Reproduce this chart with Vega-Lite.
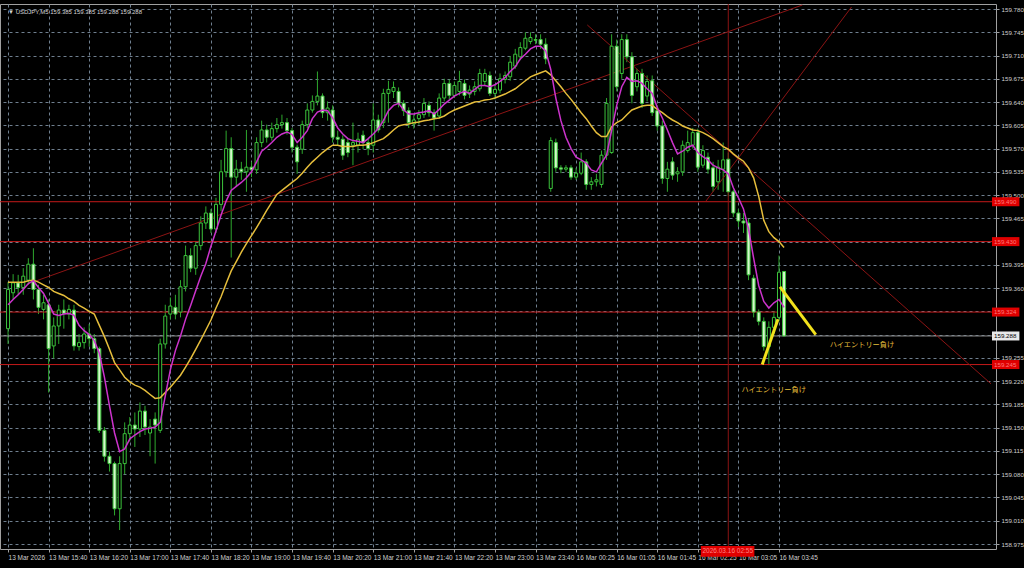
{
"$schema": "https://vega.github.io/schema/vega-lite/v6.json",
"width": 996, "height": 545,
"autosize": "none",
"padding": {"left": 0, "top": 4, "right": 28, "bottom": 19},
"background": "#000000",
"config": {
  "font": "Liberation Sans",
  "view": {"stroke": "#a0a0a0", "strokeWidth": 1},
  "axis": {"gridColor": "#6f7f8f", "gridDash": [3, 3], "gridOpacity": 1, "gridWidth": 1, "domain": false, "tickColor": "#a0a0a0", "tickSize": 3, "labelColor": "#cfcfcf", "labelFont": "Liberation Sans", "labelOverlap": false, "labelFlush": false}
},
"datasets": {
  "candles": [
{"i":0,"o":159.299,"h":159.369,"l":159.276,"c":159.358,"f":159.335,"s":159.369},
{"i":1,"o":159.353,"h":159.381,"l":159.343,"c":159.368,"f":159.343,"s":159.369},
{"i":2,"o":159.368,"h":159.380,"l":159.350,"c":159.361,"f":159.350,"s":159.369},
{"i":3,"o":159.361,"h":159.390,"l":159.350,"c":159.378,"f":159.358,"s":159.369},
{"i":4,"o":159.372,"h":159.405,"l":159.365,"c":159.396,"f":159.367,"s":159.371},
{"i":5,"o":159.396,"h":159.420,"l":159.343,"c":159.358,"f":159.371,"s":159.372},
{"i":6,"o":159.358,"h":159.365,"l":159.321,"c":159.331,"f":159.361,"s":159.369},
{"i":7,"o":159.328,"h":159.350,"l":159.313,"c":159.338,"f":159.352,"s":159.365},
{"i":8,"o":159.335,"h":159.343,"l":159.203,"c":159.269,"f":159.337,"s":159.361},
{"i":9,"o":159.273,"h":159.316,"l":159.254,"c":159.303,"f":159.321,"s":159.355},
{"i":10,"o":159.303,"h":159.335,"l":159.276,"c":159.327,"f":159.319,"s":159.352},
{"i":11,"o":159.327,"h":159.343,"l":159.299,"c":159.322,"f":159.321,"s":159.349},
{"i":12,"o":159.321,"h":159.335,"l":159.313,"c":159.328,"f":159.322,"s":159.344},
{"i":13,"o":159.327,"h":159.335,"l":159.266,"c":159.273,"f":159.319,"s":159.340},
{"i":14,"o":159.272,"h":159.291,"l":159.266,"c":159.278,"f":159.304,"s":159.334},
{"i":15,"o":159.278,"h":159.301,"l":159.269,"c":159.291,"f":159.296,"s":159.330},
{"i":16,"o":159.291,"h":159.306,"l":159.272,"c":159.284,"f":159.290,"s":159.325},
{"i":17,"o":159.284,"h":159.291,"l":159.262,"c":159.269,"f":159.281,"s":159.321},
{"i":18,"o":159.269,"h":159.272,"l":159.142,"c":159.146,"f":159.262,"s":159.304},
{"i":19,"o":159.146,"h":159.151,"l":159.099,"c":159.107,"f":159.226,"s":159.287},
{"i":20,"o":159.107,"h":159.114,"l":159.084,"c":159.096,"f":159.183,"s":159.268},
{"i":21,"o":159.096,"h":159.099,"l":159.018,"c":159.028,"f":159.142,"s":159.248},
{"i":22,"o":159.028,"h":159.107,"l":158.996,"c":159.096,"f":159.114,"s":159.237},
{"i":23,"o":159.096,"h":159.158,"l":159.080,"c":159.141,"f":159.118,"s":159.226},
{"i":24,"o":159.141,"h":159.166,"l":159.129,"c":159.154,"f":159.133,"s":159.219},
{"i":25,"o":159.154,"h":159.173,"l":159.121,"c":159.148,"f":159.139,"s":159.214},
{"i":26,"o":159.148,"h":159.188,"l":159.136,"c":159.175,"f":159.144,"s":159.211},
{"i":27,"o":159.175,"h":159.183,"l":159.139,"c":159.151,"f":159.148,"s":159.206},
{"i":28,"o":159.142,"h":159.163,"l":159.107,"c":159.151,"f":159.149,"s":159.200},
{"i":29,"o":159.163,"h":159.173,"l":159.096,"c":159.154,"f":159.151,"s":159.194},
{"i":30,"o":159.146,"h":159.284,"l":159.142,"c":159.276,"f":159.158,"s":159.195},
{"i":31,"o":159.276,"h":159.335,"l":159.269,"c":159.318,"f":159.198,"s":159.203},
{"i":32,"o":159.321,"h":159.346,"l":159.313,"c":159.333,"f":159.237,"s":159.211},
{"i":33,"o":159.331,"h":159.350,"l":159.313,"c":159.321,"f":159.266,"s":159.220},
{"i":34,"o":159.324,"h":159.372,"l":159.316,"c":159.362,"f":159.288,"s":159.229},
{"i":35,"o":159.362,"h":159.424,"l":159.355,"c":159.409,"f":159.313,"s":159.241},
{"i":36,"o":159.409,"h":159.420,"l":159.384,"c":159.390,"f":159.334,"s":159.254},
{"i":37,"o":159.390,"h":159.431,"l":159.380,"c":159.424,"f":159.356,"s":159.268},
{"i":38,"o":159.424,"h":159.468,"l":159.417,"c":159.458,"f":159.378,"s":159.282},
{"i":39,"o":159.458,"h":159.483,"l":159.449,"c":159.473,"f":159.397,"s":159.297},
{"i":40,"o":159.473,"h":159.479,"l":159.443,"c":159.449,"f":159.423,"s":159.312},
{"i":41,"o":159.449,"h":159.496,"l":159.443,"c":159.486,"f":159.446,"s":159.330},
{"i":42,"o":159.486,"h":159.553,"l":159.476,"c":159.535,"f":159.470,"s":159.347},
{"i":43,"o":159.535,"h":159.597,"l":159.527,"c":159.570,"f":159.491,"s":159.367},
{"i":44,"o":159.570,"h":159.587,"l":159.406,"c":159.527,"f":159.507,"s":159.386},
{"i":45,"o":159.527,"h":159.553,"l":159.513,"c":159.539,"f":159.513,"s":159.400},
{"i":46,"o":159.539,"h":159.550,"l":159.523,"c":159.535,"f":159.519,"s":159.414},
{"i":47,"o":159.535,"h":159.598,"l":159.505,"c":159.542,"f":159.526,"s":159.427},
{"i":48,"o":159.542,"h":159.550,"l":159.527,"c":159.538,"f":159.535,"s":159.439},
{"i":49,"o":159.538,"h":159.587,"l":159.532,"c":159.579,"f":159.550,"s":159.451},
{"i":50,"o":159.579,"h":159.612,"l":159.572,"c":159.598,"f":159.566,"s":159.464},
{"i":51,"o":159.598,"h":159.606,"l":159.579,"c":159.587,"f":159.572,"s":159.477},
{"i":52,"o":159.587,"h":159.609,"l":159.582,"c":159.600,"f":159.579,"s":159.489},
{"i":53,"o":159.600,"h":159.616,"l":159.594,"c":159.606,"f":159.587,"s":159.501},
{"i":54,"o":159.606,"h":159.621,"l":159.600,"c":159.609,"f":159.592,"s":159.507},
{"i":55,"o":159.609,"h":159.616,"l":159.591,"c":159.597,"f":159.595,"s":159.513},
{"i":56,"o":159.597,"h":159.601,"l":159.564,"c":159.572,"f":159.591,"s":159.519},
{"i":57,"o":159.572,"h":159.576,"l":159.532,"c":159.550,"f":159.579,"s":159.525},
{"i":58,"o":159.569,"h":159.612,"l":159.562,"c":159.606,"f":159.587,"s":159.533},
{"i":59,"o":159.606,"h":159.638,"l":159.601,"c":159.628,"f":159.597,"s":159.542},
{"i":60,"o":159.628,"h":159.650,"l":159.624,"c":159.641,"f":159.615,"s":159.550},
{"i":61,"o":159.641,"h":159.686,"l":159.635,"c":159.649,"f":159.625,"s":159.557},
{"i":62,"o":159.649,"h":159.653,"l":159.616,"c":159.624,"f":159.628,"s":159.564},
{"i":63,"o":159.624,"h":159.641,"l":159.612,"c":159.631,"f":159.627,"s":159.570},
{"i":64,"o":159.628,"h":159.635,"l":159.579,"c":159.587,"f":159.616,"s":159.575},
{"i":65,"o":159.587,"h":159.597,"l":159.575,"c":159.584,"f":159.601,"s":159.575},
{"i":66,"o":159.584,"h":159.590,"l":159.553,"c":159.560,"f":159.592,"s":159.573},
{"i":67,"o":159.579,"h":159.585,"l":159.557,"c":159.564,"f":159.585,"s":159.573},
{"i":68,"o":159.575,"h":159.609,"l":159.545,"c":159.579,"f":159.582,"s":159.573},
{"i":69,"o":159.575,"h":159.594,"l":159.564,"c":159.584,"f":159.581,"s":159.575},
{"i":70,"o":159.590,"h":159.597,"l":159.569,"c":159.579,"f":159.579,"s":159.575},
{"i":71,"o":159.579,"h":159.585,"l":159.560,"c":159.570,"f":159.585,"s":159.576},
{"i":72,"o":159.575,"h":159.638,"l":159.564,"c":159.613,"f":159.592,"s":159.579},
{"i":73,"o":159.613,"h":159.621,"l":159.594,"c":159.598,"f":159.600,"s":159.582},
{"i":74,"o":159.609,"h":159.660,"l":159.601,"c":159.653,"f":159.612,"s":159.585},
{"i":75,"o":159.653,"h":159.672,"l":159.609,"c":159.659,"f":159.627,"s":159.591},
{"i":76,"o":159.656,"h":159.671,"l":159.646,"c":159.662,"f":159.635,"s":159.598},
{"i":77,"o":159.656,"h":159.662,"l":159.632,"c":159.638,"f":159.638,"s":159.604},
{"i":78,"o":159.638,"h":159.643,"l":159.619,"c":159.627,"f":159.628,"s":159.606},
{"i":79,"o":159.627,"h":159.632,"l":159.601,"c":159.609,"f":159.622,"s":159.607},
{"i":80,"o":159.607,"h":159.621,"l":159.600,"c":159.613,"f":159.622,"s":159.609},
{"i":81,"o":159.615,"h":159.628,"l":159.606,"c":159.621,"f":159.624,"s":159.610},
{"i":82,"o":159.621,"h":159.646,"l":159.616,"c":159.638,"f":159.625,"s":159.612},
{"i":83,"o":159.635,"h":159.641,"l":159.618,"c":159.624,"f":159.627,"s":159.613},
{"i":84,"o":159.624,"h":159.629,"l":159.597,"c":159.616,"f":159.622,"s":159.615},
{"i":85,"o":159.619,"h":159.653,"l":159.615,"c":159.646,"f":159.629,"s":159.616},
{"i":86,"o":159.646,"h":159.675,"l":159.641,"c":159.668,"f":159.637,"s":159.619},
{"i":87,"o":159.668,"h":159.674,"l":159.644,"c":159.650,"f":159.643,"s":159.624},
{"i":88,"o":159.650,"h":159.671,"l":159.646,"c":159.665,"f":159.649,"s":159.628},
{"i":89,"o":159.656,"h":159.687,"l":159.650,"c":159.671,"f":159.653,"s":159.631},
{"i":90,"o":159.668,"h":159.674,"l":159.644,"c":159.650,"f":159.656,"s":159.634},
{"i":91,"o":159.652,"h":159.665,"l":159.646,"c":159.658,"f":159.653,"s":159.637},
{"i":92,"o":159.656,"h":159.671,"l":159.650,"c":159.663,"f":159.659,"s":159.640},
{"i":93,"o":159.660,"h":159.690,"l":159.656,"c":159.683,"f":159.665,"s":159.641},
{"i":94,"o":159.671,"h":159.690,"l":159.665,"c":159.683,"f":159.665,"s":159.643},
{"i":95,"o":159.680,"h":159.686,"l":159.649,"c":159.653,"f":159.663,"s":159.644},
{"i":96,"o":159.653,"h":159.665,"l":159.644,"c":159.659,"f":159.666,"s":159.646},
{"i":97,"o":159.658,"h":159.683,"l":159.653,"c":159.675,"f":159.671,"s":159.649},
{"i":98,"o":159.674,"h":159.686,"l":159.668,"c":159.680,"f":159.677,"s":159.652},
{"i":99,"o":159.678,"h":159.709,"l":159.672,"c":159.700,"f":159.686,"s":159.656},
{"i":100,"o":159.694,"h":159.720,"l":159.690,"c":159.712,"f":159.693,"s":159.660},
{"i":101,"o":159.708,"h":159.730,"l":159.703,"c":159.722,"f":159.705,"s":159.666},
{"i":102,"o":159.721,"h":159.745,"l":159.718,"c":159.736,"f":159.712,"s":159.672},
{"i":103,"o":159.731,"h":159.745,"l":159.727,"c":159.737,"f":159.720,"s":159.678},
{"i":104,"o":159.734,"h":159.742,"l":159.727,"c":159.733,"f":159.724,"s":159.681},
{"i":105,"o":159.734,"h":159.742,"l":159.720,"c":159.727,"f":159.724,"s":159.684},
{"i":106,"o":159.727,"h":159.736,"l":159.697,"c":159.705,"f":159.717,"s":159.687},
{"i":107,"o":159.510,"h":159.587,"l":159.505,"c":159.582,"f":159.689,"s":159.681},
{"i":108,"o":159.579,"h":159.585,"l":159.535,"c":159.541,"f":159.646,"s":159.672},
{"i":109,"o":159.541,"h":159.545,"l":159.533,"c":159.539,"f":159.612,"s":159.663},
{"i":110,"o":159.539,"h":159.545,"l":159.535,"c":159.541,"f":159.587,"s":159.653},
{"i":111,"o":159.541,"h":159.545,"l":159.523,"c":159.527,"f":159.570,"s":159.644},
{"i":112,"o":159.527,"h":159.541,"l":159.523,"c":159.533,"f":159.557,"s":159.634},
{"i":113,"o":159.533,"h":159.564,"l":159.530,"c":159.550,"f":159.553,"s":159.624},
{"i":114,"o":159.550,"h":159.554,"l":159.508,"c":159.516,"f":159.548,"s":159.615},
{"i":115,"o":159.516,"h":159.527,"l":159.508,"c":159.520,"f":159.538,"s":159.604},
{"i":116,"o":159.520,"h":159.532,"l":159.513,"c":159.523,"f":159.535,"s":159.594},
{"i":117,"o":159.516,"h":159.567,"l":159.511,"c":159.560,"f":159.548,"s":159.588},
{"i":118,"o":159.560,"h":159.646,"l":159.553,"c":159.638,"f":159.560,"s":159.588},
{"i":119,"o":159.564,"h":159.742,"l":159.562,"c":159.724,"f":159.597,"s":159.603},
{"i":120,"o":159.724,"h":159.734,"l":159.656,"c":159.663,"f":159.635,"s":159.609},
{"i":121,"o":159.683,"h":159.742,"l":159.675,"c":159.734,"f":159.663,"s":159.613},
{"i":122,"o":159.734,"h":159.742,"l":159.700,"c":159.708,"f":159.677,"s":159.621},
{"i":123,"o":159.708,"h":159.715,"l":159.638,"c":159.650,"f":159.671,"s":159.628},
{"i":124,"o":159.663,"h":159.690,"l":159.656,"c":159.683,"f":159.672,"s":159.631},
{"i":125,"o":159.683,"h":159.690,"l":159.631,"c":159.638,"f":159.668,"s":159.634},
{"i":126,"o":159.649,"h":159.680,"l":159.641,"c":159.671,"f":159.660,"s":159.635},
{"i":127,"o":159.672,"h":159.680,"l":159.619,"c":159.624,"f":159.653,"s":159.635},
{"i":128,"o":159.627,"h":159.635,"l":159.597,"c":159.604,"f":159.632,"s":159.629},
{"i":129,"o":159.604,"h":159.612,"l":159.517,"c":159.525,"f":159.616,"s":159.624},
{"i":130,"o":159.525,"h":159.550,"l":159.505,"c":159.539,"f":159.598,"s":159.618},
{"i":131,"o":159.550,"h":159.557,"l":159.523,"c":159.530,"f":159.579,"s":159.613},
{"i":132,"o":159.532,"h":159.542,"l":159.520,"c":159.535,"f":159.562,"s":159.609},
{"i":133,"o":159.535,"h":159.582,"l":159.529,"c":159.575,"f":159.566,"s":159.604},
{"i":134,"o":159.567,"h":159.597,"l":159.564,"c":159.579,"f":159.572,"s":159.601},
{"i":135,"o":159.575,"h":159.601,"l":159.570,"c":159.594,"f":159.575,"s":159.598},
{"i":136,"o":159.594,"h":159.600,"l":159.535,"c":159.542,"f":159.564,"s":159.597},
{"i":137,"o":159.545,"h":159.575,"l":159.541,"c":159.567,"f":159.558,"s":159.594},
{"i":138,"o":159.557,"h":159.564,"l":159.532,"c":159.539,"f":159.553,"s":159.590},
{"i":139,"o":159.541,"h":159.550,"l":159.505,"c":159.513,"f":159.545,"s":159.585},
{"i":140,"o":159.520,"h":159.553,"l":159.508,"c":159.542,"f":159.541,"s":159.579},
{"i":141,"o":159.539,"h":159.579,"l":159.505,"c":159.553,"f":159.538,"s":159.573},
{"i":142,"o":159.554,"h":159.564,"l":159.498,"c":159.505,"f":159.532,"s":159.569},
{"i":143,"o":159.505,"h":159.508,"l":159.467,"c":159.473,"f":159.511,"s":159.562},
{"i":144,"o":159.473,"h":159.479,"l":159.452,"c":159.461,"f":159.496,"s":159.556},
{"i":145,"o":159.461,"h":159.473,"l":159.443,"c":159.458,"f":159.479,"s":159.551},
{"i":146,"o":159.458,"h":159.464,"l":159.372,"c":159.380,"f":159.449,"s":159.541},
{"i":147,"o":159.375,"h":159.380,"l":159.316,"c":159.324,"f":159.405,"s":159.526},
{"i":148,"o":159.324,"h":159.328,"l":159.304,"c":159.310,"f":159.364,"s":159.498},
{"i":149,"o":159.310,"h":159.316,"l":159.266,"c":159.272,"f":159.340,"s":159.462},
{"i":150,"o":159.272,"h":159.310,"l":159.244,"c":159.301,"f":159.330,"s":159.445},
{"i":151,"o":159.301,"h":159.325,"l":159.291,"c":159.316,"f":159.338,"s":159.436},
{"i":152,"o":159.316,"h":159.409,"l":159.310,"c":159.384,"f":159.343,"s":159.430},
{"i":153,"o":159.385,"h":159.385,"l":159.288,"c":159.288,"f":159.331,"s":159.421}
  ],
  "hlines": [{"p": 159.490, "k": "r"}, {"p": 159.430, "k": "r"}, {"p": 159.324, "k": "r"}, {"p": 159.245, "k": "r"}, {"p": 159.288, "k": "g"}],
  "vlines": [{"i": 142}],
  "trends": [
    {"t": 1, "i": 4.87, "p": 159.369}, {"t": 1, "i": 156.6, "p": 159.786},
    {"t": 2, "i": 114.2, "p": 159.756}, {"t": 2, "i": 193.8, "p": 159.216},
    {"t": 3, "i": 137.6, "p": 159.491}, {"t": 3, "i": 166.3, "p": 159.783}
  ],
  "marks": [
    {"n": 1, "i": 148.7, "p": 159.245}, {"n": 1, "i": 151.8, "p": 159.313},
    {"n": 2, "i": 152.2, "p": 159.362}, {"n": 2, "i": 159.25, "p": 159.290}
  ],
  "notes": [
    {"i": 162.0, "p": 159.275, "t": "ハイエントリー負け"},
    {"i": 144.6, "p": 159.206, "t": "ハイエントリー負け"}
  ],
  "header": [{"t": "▼ USDJPY,M5 159.385 159.385 159.288 159.288"}],
  "timebox": [{"t": "2026.03.16 02:55"}]
},
"layer": [
  {
    "data": {"name": "candles"},
    "mark": {"type": "rule", "strokeWidth": 1, "color": "#2ea82e"},
    "encoding": {
      "x": {"field": "i", "type": "quantitative", "scale": {"domain": [-0.6, 193.8], "nice": false, "zero": false},
        "axis": {"orient": "bottom", "grid": true, "tickCount": 50, "labelFontSize": 6.5, "labelPadding": 2, "labelAlign": "left", "labelBaseline": "top", "labelOverlap": false, "labelFlush": false,
          "values": [0, 8, 16, 24, 32, 40, 48, 56, 64, 72, 80, 88, 96, 104, 112, 120, 128, 136, 144, 152],
          "labelExpr": "['13 Mar 2026','13 Mar 15:40','13 Mar 16:20','13 Mar 17:00','13 Mar 17:40','13 Mar 18:20','13 Mar 19:00','13 Mar 19:40','13 Mar 20:20','13 Mar 21:00','13 Mar 21:40','13 Mar 22:20','13 Mar 23:00','13 Mar 23:40','16 Mar 00:25','16 Mar 01:05','16 Mar 01:45','16 Mar 02:25','16 Mar 03:05','16 Mar 03:45'][round(datum.value/8)]"},
        "title": null},
      "y": {"field": "l", "type": "quantitative", "scale": {"domain": [158.975, 159.78], "nice": false, "zero": false},
        "axis": {"orient": "right", "grid": true, "tickCount": 50, "labelFontSize": 6.2, "labelPadding": 2, "labelBaseline": "middle", "labelOverlap": false, "labelFlush": false, "labelBound": false,
          "values": [158.975, 159.01, 159.045, 159.08, 159.115, 159.15, 159.185, 159.22, 159.255, 159.29, 159.325, 159.36, 159.395, 159.43, 159.465, 159.5, 159.535, 159.57, 159.605, 159.64, 159.675, 159.71, 159.745, 159.78],
          "labelExpr": "(datum.value == 159.43 || datum.value == 159.325 || datum.value == 159.29) ? '' : format(datum.value, '.3f')"},
        "title": null},
      "y2": {"field": "h"}
    }
  },
  {
    "data": {"name": "hlines"},
    "mark": {"type": "rule", "strokeWidth": 1},
    "encoding": {
      "y": {"field": "p", "type": "quantitative", "title": null},
      "color": {"condition": {"test": "datum.k == 'g'", "value": "#8c8c8c"}, "value": "#c41a1a"}
    }
  },
  {
    "data": {"name": "vlines"},
    "mark": {"type": "rule", "strokeWidth": 1, "color": "#8c1414"},
    "encoding": {
      "x": {"field": "i", "type": "quantitative", "title": null}
    }
  },
  {
    "data": {"name": "trends"},
    "mark": {"type": "line", "strokeWidth": 1, "color": "#8c1414", "clip": true},
    "encoding": {
      "x": {"field": "i", "type": "quantitative", "title": null},
      "y": {"field": "p", "type": "quantitative", "title": null},
      "detail": {"field": "t", "type": "nominal"}
    }
  },
  {
    "data": {"name": "candles"},
    "mark": {"type": "bar", "size": 3, "stroke": "#3cc43c", "strokeWidth": 1},
    "encoding": {
      "x": {"field": "i", "type": "quantitative", "title": null},
      "y": {"field": "o", "type": "quantitative", "title": null},
      "y2": {"field": "c"},
      "fill": {"condition": {"test": "datum.c < datum.o", "value": "#d6f7cc"}, "value": "#000000"}
    }
  },
  {
    "data": {"name": "candles"},
    "mark": {"type": "line", "strokeWidth": 1.5, "color": "#e6be3c"},
    "encoding": {
      "x": {"field": "i", "type": "quantitative", "title": null},
      "y": {"field": "s", "type": "quantitative", "title": null}
    }
  },
  {
    "data": {"name": "candles"},
    "mark": {"type": "line", "strokeWidth": 1.5, "color": "#cc33cc"},
    "encoding": {
      "x": {"field": "i", "type": "quantitative", "title": null},
      "y": {"field": "f", "type": "quantitative", "title": null}
    }
  },
  {
    "data": {"name": "marks"},
    "mark": {"type": "line", "strokeWidth": 3, "color": "#f2e11c"},
    "encoding": {
      "x": {"field": "i", "type": "quantitative", "title": null},
      "y": {"field": "p", "type": "quantitative", "title": null},
      "detail": {"field": "n", "type": "nominal"}
    }
  },
  {
    "data": {"name": "notes"},
    "mark": {"type": "text", "align": "left", "baseline": "middle", "font": "Noto Sans CJK JP", "fontSize": 7.2, "color": "#e6bf3c"},
    "encoding": {
      "x": {"field": "i", "type": "quantitative", "title": null},
      "y": {"field": "p", "type": "quantitative", "title": null},
      "text": {"field": "t"}
    }
  },
  {
    "data": {"name": "hlines"},
    "mark": {"type": "bar", "orient": "horizontal", "size": 9},
    "encoding": {
      "x": {"datum": 194.0, "type": "quantitative", "title": null},
      "x2": {"datum": 199.4},
      "y": {"field": "p", "type": "quantitative", "title": null},
      "fill": {"condition": {"test": "datum.k == 'g'", "value": "#e8e8e8"}, "value": "#e00000"}
    }
  },
  {
    "data": {"name": "hlines"},
    "mark": {"type": "text", "align": "left", "baseline": "middle", "fontSize": 6.2, "dx": 2},
    "encoding": {
      "x": {"datum": 194.0, "type": "quantitative", "title": null},
      "y": {"field": "p", "type": "quantitative", "title": null},
      "text": {"field": "p", "type": "quantitative", "format": ".3f"},
      "color": {"condition": {"test": "datum.k == 'g'", "value": "#000000"}, "value": "#ff7a7a"}
    }
  },
  {
    "data": {"name": "timebox"},
    "mark": {"type": "rect", "color": "#e00000"},
    "encoding": {
      "x": {"datum": 136.6, "type": "quantitative", "title": null},
      "x2": {"datum": 147.15},
      "y": {"datum": 158.972, "type": "quantitative", "title": null},
      "y2": {"datum": 158.956}
    }
  },
  {
    "data": {"name": "timebox"},
    "mark": {"type": "text", "align": "center", "baseline": "middle", "fontSize": 6.5, "color": "#ff8080"},
    "encoding": {
      "x": {"datum": 141.9, "type": "quantitative", "title": null},
      "y": {"datum": 158.964, "type": "quantitative", "title": null},
      "text": {"field": "t"}
    }
  },
  {
    "data": {"name": "header"},
    "mark": {"type": "text", "align": "left", "baseline": "middle", "fontSize": 6, "color": "#d6d6d6"},
    "encoding": {
      "x": {"datum": 0.0, "type": "quantitative", "title": null},
      "y": {"datum": 159.776, "type": "quantitative", "title": null},
      "text": {"field": "t"}
    }
  }
]
}
